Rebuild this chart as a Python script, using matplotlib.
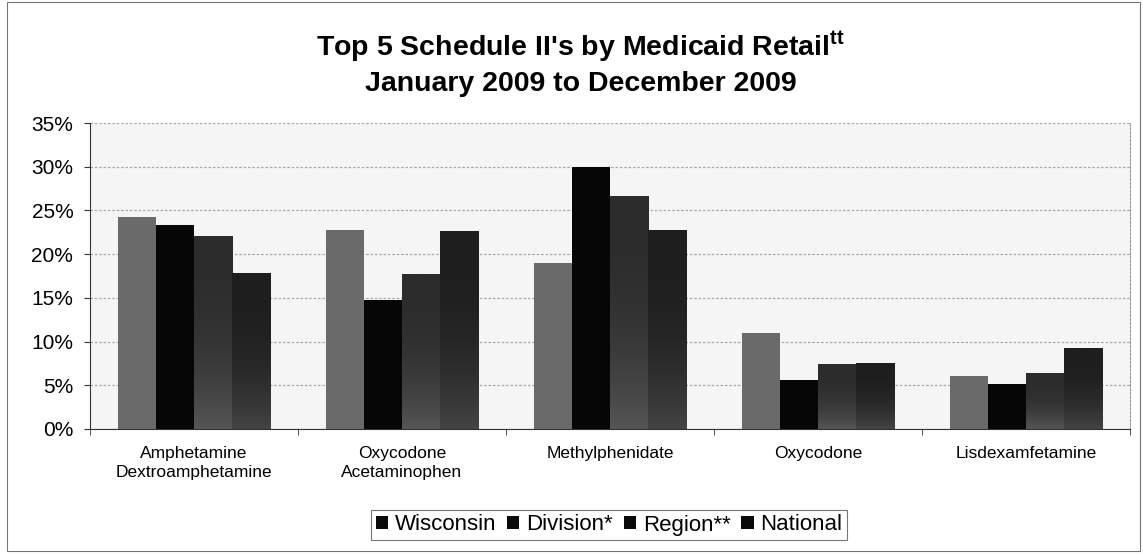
import numpy as np
import matplotlib.pyplot as plt
from matplotlib.patches import Rectangle, Patch
from matplotlib.colors import LinearSegmentedColormap

plt.rcParams['font.family'] = ['Liberation Sans', 'DejaVu Sans']

# Drug categories and share of Schedule II prescriptions (%)
drugs = ['Amphetamine\nDextroamphetamine', 'Oxycodone\nAcetaminophen',
         'Methylphenidate', 'Oxycodone', 'Lisdexamfetamine']
series = ['Wisconsin', 'Division*', 'Region**', 'National']
wisconsin = [24.3, 22.8, 19.0, 11.0, 6.1]
division = [23.3, 14.8, 30.0, 5.6, 5.1]
region = [22.1, 17.7, 26.7, 7.4, 6.4]
national = [17.9, 22.7, 22.8, 7.6, 9.3]

values = [wisconsin, division, region, national]
colors = ['#6a6a6a', '#060606', '#303030', '#222222']
# Region and National bars are shaded lighter towards their base
shades = {2: ('#2c2c2c', '#555555'), 3: ('#1e1e1e', '#444444')}

W, H = 1143, 554
fig = plt.figure(figsize=(W / 100, H / 100), dpi=100)
ax = fig.add_axes([90 / W, 1 - 429 / H, 1040 / W, 306 / H])

x = np.arange(len(drugs))
w = 0.183
ramp = np.linspace(0, 1, 100)[:, None] ** 2.5
for i, (vals, c) in enumerate(zip(values, colors)):
    bars = ax.bar(x + (i - 1.5) * w, vals, w, color=c, label=series[i], zorder=3)
    if i in shades:
        cmap = LinearSegmentedColormap.from_list('shade', shades[i])
        for b in bars:
            x0, y0 = b.get_x(), b.get_y()
            im = ax.imshow(ramp, cmap=cmap, aspect='auto', origin='upper',
                           extent=[x0, x0 + b.get_width(), y0, y0 + b.get_height()],
                           zorder=3.5)
            im.set_clip_path(b)

ax.set_xlim(-0.5, len(drugs) - 0.5)
ax.set_ylim(0, 35)
ax.set_yticks(range(0, 36, 5))
ax.set_yticklabels([f'{v}%' for v in range(0, 36, 5)], fontsize=15)
ax.set_xticks(x)
ax.set_xticklabels(drugs, fontsize=12.5, va='top', linespacing=1.35)
ax.set_xticks(np.arange(-0.5, len(drugs)), minor=True)
ax.tick_params(axis='x', which='major', length=0, pad=12)
ax.tick_params(axis='x', which='minor', length=4, color='#333333')
ax.tick_params(axis='y', length=4, pad=8, color='#333333')
ax.grid(axis='y', color='#a8a8a8', linewidth=0.9, linestyle=(0, (2, 1.5)), zorder=0)
ax.set_facecolor('#f5f5f5')
ax.spines['top'].set_visible(False)
ax.spines['right'].set_color('#999999')
ax.spines['right'].set_linestyle((0, (2, 1.5)))
ax.spines['left'].set_color('#333333')
ax.spines['bottom'].set_color('#333333')

fig.text(580 / W, 1 - 47 / H, "Top 5 Schedule II's by Medicaid Retail$^{\\mathregular{tt}}$",
         ha='center', va='center', fontsize=20.5, fontweight='bold')
fig.text(581 / W, 1 - 84 / H, 'January 2009 to December 2009',
         ha='center', va='center', fontsize=20.5, fontweight='bold')

handles = [Patch(facecolor='#0a0a0a', label=s) for s in series]
leg = fig.legend(handles=handles, loc='center', bbox_to_anchor=(609 / W, 1 - 525 / H),
                 ncol=4, fontsize=16, frameon=True, fancybox=False,
                 edgecolor='#555555', handlelength=0.55, handleheight=0.55,
                 handletextpad=0.3, columnspacing=0.5, borderpad=0.2,
                 borderaxespad=0)
leg.get_frame().set_linewidth(0.8)

# thin border around the whole chart area
fig.patches.append(Rectangle((7 / W, 3 / H), 1133 / W, 549 / H,
                             transform=fig.transFigure, fill=False,
                             edgecolor='#777777', linewidth=0.8))

fig.savefig('out.png', dpi=100)
